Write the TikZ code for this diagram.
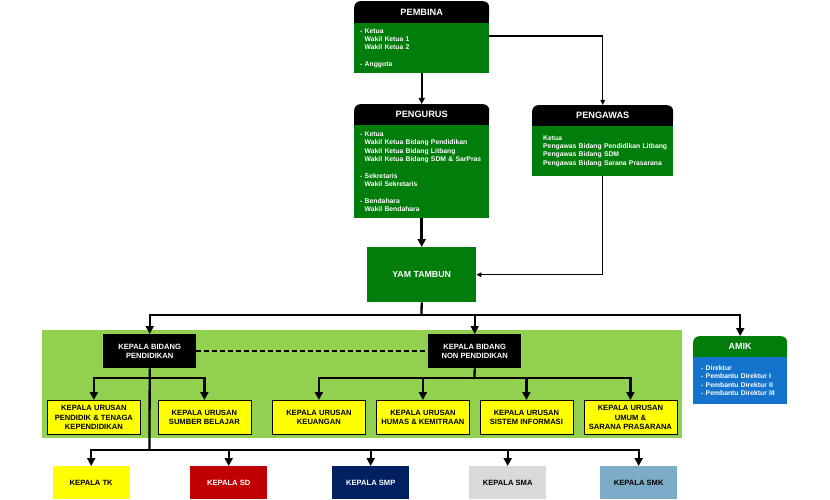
\documentclass[tikz,border=0pt]{standalone}
\usepackage{fontspec}
\setmainfont{Liberation Sans}
\usetikzlibrary{arrows.meta}
\definecolor{cardgreen}{RGB}{0,125,10}
\definecolor{panelgreen}{RGB}{146,208,80}
\definecolor{urusyellow}{RGB}{255,255,0}
\definecolor{sdred}{RGB}{192,0,0}
\definecolor{smpnavy}{RGB}{0,32,96}
\definecolor{smagray}{RGB}{217,217,217}
\definecolor{smkblue}{RGB}{125,172,200}
\definecolor{amikblue}{RGB}{20,115,205}
\begin{document}
\begin{tikzpicture}[x=1pt,y=-1pt,
  hdr/.style={fill=black, text=white, rounded corners=6pt, inner sep=0pt, anchor=north west,
    font=\fontsize{9.2}{11}\selectfont\bfseries},
  cardbody/.style={fill=cardgreen, text=white, align=left, anchor=north west, inner ysep=0pt,
    inner xsep=6pt, font=\fontsize{6.8}{8.3}\selectfont\bfseries},
  blackbox/.style={fill=black, text=white, align=center, anchor=north west, inner sep=0pt,
    minimum width=93pt, minimum height=34pt, font=\fontsize{7.6}{9}\selectfont\bfseries},
  urus/.style={fill=urusyellow, draw=black, line width=0.8pt, text=black, align=center,
    anchor=north west, inner sep=0pt, minimum width=93pt, minimum height=34pt,
    font=\fontsize{7.6}{9.5}\selectfont\bfseries},
  school/.style={anchor=north west, inner sep=0pt, minimum width=77pt, minimum height=33pt,
    font=\fontsize{7.6}{9}\selectfont\bfseries},
  mainline/.style={line width=2.3pt, line cap=butt},
  mainarrow/.style={line width=2.3pt, -{Triangle[length=8pt,width=8pt]}},
  thinarrow/.style={line width=1.2pt, -{Triangle[length=5pt,width=4.5pt]}},
]
\useasboundingbox (0,0) rectangle (830,500);
\fill[white] (0,0) rectangle (830,500);

% green panel
\fill[panelgreen] (42,330) rectangle (682,438);

% PEMBINA
\node[hdr, minimum width=135pt, minimum height=22pt] (pembinaH) at (354,1) {PEMBINA};
\fill[black] ([yshift=7pt]pembinaH.south west) rectangle (pembinaH.south east);
\node[cardbody, text width=123pt, minimum height=50pt] (pembina) at (354,23)
  {- Ketua\\ \hphantom{- }Wakil Ketua 1\\ \hphantom{- }Wakil Ketua 2\\[8.3pt] - Anggota};

% PENGURUS
\node[hdr, minimum width=135pt, minimum height=21pt] (pengurusH) at (354,104) {PENGURUS};
\fill[black] ([yshift=7pt]pengurusH.south west) rectangle (pengurusH.south east);
\node[cardbody, text width=123pt, minimum height=93pt] (pengurus) at (354,125)
  {- Ketua\\ \hphantom{- }Wakil Ketua Bidang Pendidikan\\ \hphantom{- }Wakil Ketua Bidang Litbang\\
   \hphantom{- }Wakil Ketua Bidang SDM \& SarPras\\[8.3pt]
   - Sekretaris\\ \hphantom{- }Wakil Sekretaris\\[8.3pt]
   - Bendahara\\ \hphantom{- }Wakil Bendahara};

% PENGAWAS
\node[hdr, minimum width=141pt, minimum height=21pt] (pengawasH) at (532,105) {PENGAWAS};
\fill[black] ([yshift=7pt]pengawasH.south west) rectangle (pengawasH.south east);
\node[cardbody, inner xsep=0pt, text width=141pt, minimum height=50pt] (pengawas) at (532,126)
  {\hspace*{11pt}Ketua\\ \hspace*{11pt}Pengawas Bidang Pendidikan Litbang\\
   \hspace*{11pt}Pengawas Bidang SDM\\ \hspace*{11pt}Pengawas Bidang Sarana Prasarana};

% YAM TAMBUN
\node[fill=cardgreen, text=white, anchor=north west, inner sep=0pt, minimum width=109pt,
  minimum height=55pt, font=\fontsize{8.8}{10}\selectfont\bfseries] (yam) at (367,247) {YAM TAMBUN};

% AMIK
\node[hdr, fill=cardgreen, minimum width=94pt, minimum height=21pt,
  font=\fontsize{9}{11}\selectfont\bfseries] (amikH) at (693,336) {AMIK};
\fill[cardgreen] ([yshift=7pt]amikH.south west) rectangle (amikH.south east);
\node[cardbody, fill=amikblue, inner xsep=0pt, text width=94pt, minimum height=47pt] (amik) at (693,357)
  {\hspace*{8pt}- Direktur\\ \hspace*{8pt}- Pembantu Direktur I\\
   \hspace*{8pt}- Pembantu Direktur II\\ \hspace*{8pt}- Pembantu Direktur III};

% Kepala bidang
\node[blackbox] (kbp) at (103,334) {KEPALA BIDANG\\PENDIDIKAN};
\node[blackbox] (kbnp) at (428,334) {KEPALA BIDANG\\NON PENDIDIKAN};

% Kepala urusan
\node[urus] (u1) at (47,400) {KEPALA URUSAN\\PENDIDIK \& TENAGA\\KEPENDIDIKAN};
\node[urus] (u2) at (157.5,400) {KEPALA URUSAN\\SUMBER BELAJAR};
\node[urus] (u3) at (272,400) {KEPALA URUSAN\\KEUANGAN};
\node[urus] (u4) at (376,400) {KEPALA URUSAN\\HUMAS \& KEMITRAAN};
\node[urus] (u5) at (479.5,400) {KEPALA URUSAN\\SISTEM INFORMASI};
\node[urus] (u6) at (583.5,400) {KEPALA URUSAN\\UMUM \&\\SARANA PRASARANA};

% Schools
\node[school, fill=urusyellow, text=black] (tk) at (52.5,466) {KEPALA TK};
\node[school, fill=sdred, text=white] (sd) at (190,466) {KEPALA SD};
\node[school, fill=smpnavy, text=white] (smp) at (332,466) {KEPALA SMP};
\node[school, fill=smagray, text=black] (sma) at (469,466) {KEPALA SMA};
\node[school, fill=smkblue, text=black] (smk) at (600,466) {KEPALA SMK};

% junction coordinates
\coordinate (c1) at (602,36);
\coordinate (j1) at (421.5,315);
\coordinate (j2) at (149.5,378);
\coordinate (j3) at (474.5,378);
\coordinate (j4) at (149.5,450);

% connectors top
\draw[line width=2.3pt, -{Triangle[length=6pt,width=6pt]}] (pembina.south) -- (pengurusH.north);
\draw[thinarrow] (pembina.east |- c1) -| (pengawasH.north);
\draw[line width=2.6pt, -{Triangle[length=8pt,width=8pt]}] (pengurus.south) -- (yam.north);
\draw[thinarrow] (pengawas.south) |- (yam.east);

% yam to bidang
\draw[mainline] (yam.south) -- (j1);
\draw[mainarrow] (j1) -| (kbp.north);
\draw[mainarrow] (j1) -| (kbnp.north);
\draw[mainarrow] (j1) -| (amikH.north);

% dashed link
\draw[line width=2.2pt, dash pattern=on 5pt off 3pt] (kbp.east) -- (kbnp.west);

% bidang pendidikan branches
\draw[mainline] (kbp.south) -- (j4);
\draw[mainarrow] (j2) -| (u1.north);
\draw[mainarrow] (j2) -| (u2.north);

% non pendidikan branches
\draw[mainline] (kbnp.south) -- (j3);
\draw[mainarrow] (j3) -| (u3.north);
\draw[mainarrow] (j3) -| (u4.north);
\draw[mainarrow] (j3) -| (u5.north);
\draw[mainarrow] (j3) -| (u6.north);

% schools
\draw[mainarrow] (j4) -| (tk.north);
\draw[mainarrow] (j4) -| (sd.north);
\draw[mainarrow] (j4) -| (smp.north);
\draw[mainarrow] (j4) -| (sma.north);
\draw[mainarrow] (j4) -| (smk.north);
\end{tikzpicture}
\end{document}
